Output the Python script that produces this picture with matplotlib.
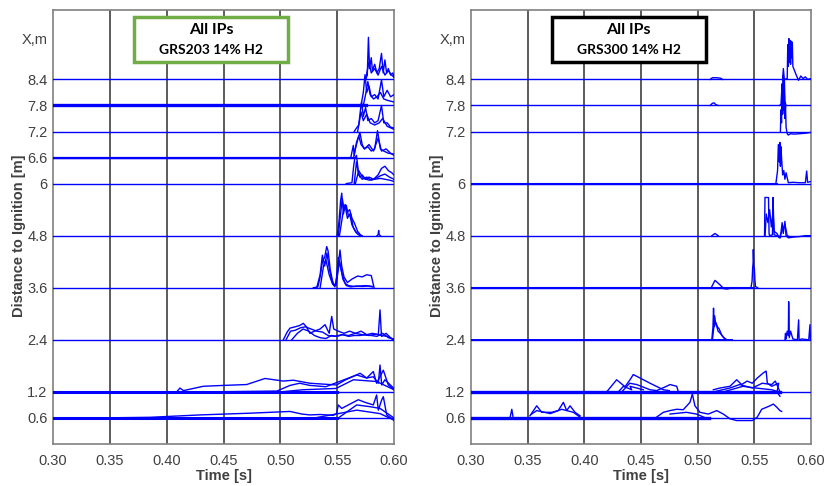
import matplotlib
matplotlib.use("Agg")
import matplotlib.pyplot as plt
from matplotlib.patches import Rectangle

# ---------------- data: GRS203 (left panel) ----------------
pos_203 = [0.6, 1.2, 2.4, 3.6, 4.8, 6.0, 6.6, 7.2, 7.8, 8.4]
ticks_203 = ['0.6', '1.2', '2.4', '3.6', '4.8', '6', '6.6', '7.2', '7.8', '8.4']

# each trace: (time [s], amplitude above the sensor baseline [m-offset])
l_84 = [
    ([0.575, 0.5765, 0.5775, 0.5785, 0.580, 0.581, 0.583, 0.585, 0.587, 0.589, 0.5905, 0.592, 0.5935, 0.595, 0.597, 0.599, 0.600],
     [0, 0.1, 0.97, 0.25, 0.5, 0.2, 0.35, 0.15, 0.25, 0.6, 0.15, 0.45, 0.15, 0.25, 0.1, 0.15, 0.05]),
    ([0.575, 0.578, 0.580, 0.583, 0.586, 0.589, 0.592, 0.595, 0.598, 0.600],
     [0, 0.4, 0.15, 0.25, 0.1, 0.3, 0.1, 0.2, 0.1, 0.05]),
]
l_78 = [
    ([0.571, 0.573, 0.5745, 0.576, 0.578, 0.580, 0.583, 0.586, 0.589, 0.591, 0.594, 0.597, 0.600],
     [0, 0.3, 0.71, 0.3, 0.45, 0.2, 0.25, 0.15, 0.59, 0.2, 0.35, 0.2, 0.25]),
    ([0.573, 0.575, 0.577, 0.579, 0.582, 0.585, 0.588, 0.591, 0.594, 0.597, 0.600],
     [0, 0.25, 0.55, 0.25, 0.15, 0.2, 0.3, 0.15, 0.12, 0.1, 0.08]),
]
l_72 = [
    ([0.565, 0.567, 0.569, 0.5705, 0.5715, 0.573, 0.575, 0.577, 0.580, 0.583, 0.586, 0.589, 0.591, 0.594, 0.597, 0.600],
     [0, 0.08, 0.15, 0.5, 0.68, 0.35, 0.55, 0.25, 0.3, 0.2, 0.25, 0.6, 0.2, 0.2, 0.1, 0.08]),
    ([0.568, 0.571, 0.573, 0.576, 0.579, 0.583, 0.587, 0.590, 0.594, 0.600],
     [0, 0.45, 0.25, 0.4, 0.2, 0.15, 0.2, 0.3, 0.12, 0.05]),
]
l_66 = [
    ([0.562, 0.5642, 0.565, 0.566, 0.568, 0.570, 0.572, 0.574, 0.577, 0.580, 0.583, 0.5855, 0.588, 0.591, 0.595, 0.600],
     [0, 0.28, 0.05, 0.2, 0.4, 0.58, 0.3, 0.2, 0.25, 0.15, 0.2, 0.62, 0.2, 0.15, 0.1, 0.08]),
    ([0.5645, 0.567, 0.569, 0.571, 0.574, 0.578, 0.582, 0.586, 0.589, 0.593, 0.597, 0.600],
     [0, 0.35, 0.5, 0.3, 0.2, 0.3, 0.15, 0.45, 0.15, 0.2, 0.1, 0.05]),
]
l_60 = [
    ([0.558, 0.563, 0.5645, 0.5655, 0.567, 0.5685, 0.570, 0.572, 0.575, 0.578, 0.582, 0.586, 0.589, 0.592, 0.595, 0.598, 0.600],
     [0, 0.02, 0.4, 0.58, 0.65, 0.3, 0.15, 0.2, 0.1, 0.15, 0.1, 0.2, 0.35, 0.4, 0.3, 0.25, 0.2]),
    ([0.565, 0.567, 0.569, 0.572, 0.576, 0.580, 0.584, 0.588, 0.592, 0.596, 0.600],
     [0, 0.5, 0.2, 0.1, 0.15, 0.08, 0.12, 0.18, 0.22, 0.15, 0.1]),
    ([0.566, 0.569, 0.573, 0.578, 0.583, 0.588, 0.592, 0.596, 0.600],
     [0, 0.3, 0.12, 0.08, 0.1, 0.12, 0.1, 0.08, 0.05]),
]
l_48 = [
    ([0.550, 0.5515, 0.553, 0.554, 0.5555, 0.557, 0.559, 0.561, 0.563, 0.566, 0.569, 0.572],
     [0, 0.3, 0.8, 0.98, 0.5, 0.7, 0.4, 0.5, 0.25, 0.1, 0.03, 0]),
    ([0.551, 0.553, 0.5545, 0.556, 0.558, 0.560, 0.562, 0.564, 0.567, 0.570],
     [0, 0.5, 0.86, 0.6, 0.7, 0.45, 0.5, 0.2, 0.06, 0]),
    ([0.552, 0.555, 0.557, 0.559, 0.561, 0.563, 0.565, 0.568, 0.571],
     [0, 0.5, 0.72, 0.55, 0.6, 0.4, 0.3, 0.1, 0]),
    ([0.585, 0.586, 0.5865, 0.587, 0.588],
     [0, 0.02, 0.12, 0.02, 0]),
]
l_36 = [
    ([0.529, 0.533, 0.535, 0.537, 0.539, 0.5408, 0.542, 0.544, 0.546, 0.548, 0.550, 0.5525, 0.554, 0.556, 0.559, 0.563, 0.568, 0.572, 0.576, 0.580, 0.5825],
     [0, 0.02, 0.25, 0.6, 0.7, 0.95, 0.85, 0.4, 0.15, 0.02, 0.3, 0.87, 0.5, 0.25, 0.12, 0.2, 0.27, 0.25, 0.3, 0.28, 0]),
    ([0.532, 0.535, 0.537, 0.539, 0.541, 0.543, 0.545, 0.547, 0.549, 0.551, 0.553, 0.555, 0.558, 0.562, 0.567, 0.572, 0.577, 0.581],
     [0, 0.3, 0.75, 0.5, 0.8, 0.45, 0.2, 0.05, 0.1, 0.7, 0.5, 0.2, 0.05, 0.02, 0.04, 0.03, 0.04, 0.02]),
    ([0.535, 0.538, 0.540, 0.543, 0.546, 0.549, 0.552, 0.554, 0.557, 0.560, 0.565, 0.570, 0.575, 0.5815],
     [0, 0.5, 0.65, 0.3, 0.08, 0.05, 0.6, 0.35, 0.1, 0.05, 0.03, 0.04, 0.05, 0.03]),
]
l_24 = [
    ([0.5026, 0.506, 0.5085, 0.513, 0.517, 0.5202, 0.523, 0.526, 0.530, 0.535, 0.5393, 0.543, 0.5452, 0.547, 0.551, 0.556, 0.561, 0.566, 0.571, 0.576, 0.581, 0.5862, 0.5877, 0.589, 0.593, 0.597, 0.600],
     [0, 0.18, 0.27, 0.3, 0.33, 0.38, 0.3, 0.15, 0.2, 0.25, 0.35, 0.15, 0.54, 0.25, 0.2, 0.15, 0.2, 0.15, 0.2, 0.12, 0.15, 0.12, 0.69, 0.08, 0.15, 0.05, -0.02]),
    ([0.505, 0.509, 0.513, 0.518, 0.522, 0.527, 0.532, 0.537, 0.542, 0.548, 0.554, 0.560, 0.566, 0.572, 0.578, 0.584, 0.589, 0.594, 0.600],
     [0, 0.2, 0.22, 0.28, 0.3, 0.25, 0.2, 0.18, 0.1, 0.08, 0.12, 0.1, 0.15, 0.12, 0.1, 0.13, 0.1, 0.08, 0.0]),
    ([0.510, 0.515, 0.520, 0.525, 0.530, 0.535, 0.540, 0.545, 0.550, 0.555, 0.560, 0.565, 0.570, 0.575, 0.580, 0.585, 0.590, 0.595, 0.600],
     [0, 0.15, 0.25, 0.2, 0.1, 0.05, 0.03, 0.1, 0.08, 0.12, 0.08, 0.1, 0.1, 0.12, 0.1, 0.08, 0.15, 0.05, 0.02]),
]
l_12 = [
    ([0.4088, 0.4117, 0.4147, 0.4323, 0.450, 0.4704, 0.4865, 0.5026, 0.5114, 0.526, 0.5495, 0.5575, 0.5702, 0.5760, 0.5818, 0.5862, 0.5877, 0.5892, 0.5920, 0.600],
     [0, 0.09, 0.03, 0.13, 0.15, 0.17, 0.31, 0.25, 0.27, 0.2, 0.16, 0.28, 0.43, 0.32, 0.35, 0.2, 0.62, 0.16, 0.28, 0.08]),
    ([0.4323, 0.497, 0.5085, 0.517, 0.526, 0.540, 0.552, 0.5672, 0.5760, 0.5818, 0.5847, 0.5906, 0.5950, 0.600],
     [0, 0.02, 0.15, 0.2, 0.15, 0.12, 0.24, 0.39, 0.32, 0.47, 0.2, 0.5, 0.16, 0.05]),
    ([0.500, 0.520, 0.549, 0.5643, 0.5847, 0.600],
     [0, 0.05, 0.08, 0.28, 0.24, 0.05]),
]
l_06 = [
    ([0.340, 0.3853, 0.4293, 0.4733, 0.5085, 0.519, 0.526, 0.535, 0.5466, 0.5495, 0.551, 0.554, 0.5598, 0.5686, 0.5745, 0.5818, 0.5847, 0.5862, 0.5891, 0.5906, 0.5936, 0.600],
     [0, 0.015, 0.07, 0.11, 0.15, 0.09, 0.07, 0.08, 0.06, 0.1, 0.3, 0.22, 0.3, 0.42, 0.36, 0.3, 0.53, 0.18, 0.41, 0.49, 0.07, -0.05]),
    ([0.551, 0.5672, 0.5789, 0.5877, 0.600],
     [0, 0.3, 0.26, 0.22, 0.0]),
    ([0.530, 0.551, 0.5672, 0.5877, 0.600],
     [0, 0.1, 0.18, 0.1, -0.05]),
]
traces_203 = [l_06, l_12, l_24, l_36, l_48, l_60, l_66, l_72, l_78, l_84]

# ---------------- data: GRS300 (right panel) ----------------
pos_300 = [0.6, 1.2, 2.4, 3.6, 4.8, 6.0, 7.2, 7.8, 8.4]
ticks_300 = ['0.6', '1.2', '2.4', '3.6', '4.8', '6', '7.2', '7.8', '8.4']

r_84 = [
    ([0.511, 0.513, 0.5165, 0.520, 0.522], [0, 0.04, 0.04, 0.03, 0]),
    ([0.575, 0.5756, 0.5765, 0.579, 0.5795, 0.580, 0.5805, 0.581, 0.5815, 0.582, 0.5825, 0.583, 0.5835, 0.584, 0.5855, 0.587, 0.589, 0.591, 0.593, 0.595, 0.597, 0.600],
     [0, 0.25, 0, 0.02, 0.8, 0.3, 0.94, 0.4, 0.9, 0.35, 0.88, 0.5, 0.86, 0.3, 0.2, 0.1, -0.02, 0.08, 0.02, 0.06, 0.0, 0.02]),
]
r_78 = [
    ([0.511, 0.513, 0.5145, 0.516, 0.518], [0, 0.05, 0.06, 0.02, 0]),
    ([0.572, 0.5735, 0.5745, 0.575, 0.5755, 0.576, 0.5765, 0.577, 0.578], [0, 0.02, 0.5, 0.2, 0.7, 0.3, 0.6, 0.1, 0]),
]
r_72 = [
    ([0.573, 0.5735, 0.574, 0.5745, 0.575, 0.5755, 0.576, 0.5765, 0.577, 0.5775, 0.578, 0.579, 0.580, 0.582, 0.585, 0.590, 0.595, 0.600],
     [0, 0.5, 0.2, 0.9, 0.4, 0.88, 0.5, 0.85, 0.3, 0.6, 0.1, -0.05, -0.08, -0.05, -0.06, -0.05, -0.04, -0.02]),
]
r_60 = [
    ([0.569, 0.5705, 0.5712, 0.572, 0.5725, 0.573, 0.5735, 0.574, 0.575, 0.576, 0.577, 0.578, 0.580, 0.584, 0.590, 0.595, 0.5962, 0.597, 0.600],
     [0, 0.3, 0.9, 0.5, 0.95, 0.4, 0.85, 0.6, 0.2, 0.3, 0.1, 0.25, 0.02, 0.03, 0.02, 0.02, 0.29, 0.03, 0.05]),
]
r_48 = [
    ([0.5125, 0.5153, 0.518], [0, 0.05, 0]),
    ([0.559, 0.5594, 0.5625, 0.563, 0.5635, 0.566, 0.5665, 0.567, 0.5675, 0.570, 0.573, 0.5745, 0.5755, 0.577, 0.578, 0.580, 0.585, 0.590, 0.595, 0.600],
     [0, 0.88, 0.88, 0.05, 0.0, 0.02, 0.88, 0.4, 0.02, 0.0, -0.05, 0.3, 0.05, 0.33, 0.0, -0.05, -0.03, -0.02, 0.0, 0.0]),
    ([0.5595, 0.5605, 0.562, 0.5635, 0.565, 0.5665, 0.5675, 0.570, 0.572, 0.575, 0.577, 0.579, 0.582],
     [0, 0.5, 0.3, 0.6, 0.2, 0.55, 0.1, 0.05, -0.05, 0.15, 0.25, 0.0, -0.03]),
]
r_36 = [
    ([0.512, 0.5135, 0.5153, 0.517, 0.520, 0.523, 0.526, 0.530], [0, 0.08, 0.17, 0.13, 0.06, -0.02, -0.03, 0]),
    ([0.547, 0.548, 0.5485, 0.549, 0.5491, 0.5495, 0.550, 0.5505, 0.551, 0.553], [0, 0.15, 0.45, 0.6, 0.88, 0.5, 0.45, 0.2, 0.03, 0]),
]
r_24 = [
    ([0.5125, 0.5135, 0.514, 0.5145, 0.515, 0.516, 0.517, 0.518, 0.520, 0.522, 0.524, 0.526],
     [0, 0.3, 0.73, 0.3, 0.55, 0.35, 0.3, 0.2, 0.15, 0.08, 0.03, 0]),
    ([0.513, 0.5145, 0.516, 0.5175, 0.519, 0.521, 0.523, 0.525], [0, 0.35, 0.4, 0.3, 0.25, 0.12, 0.05, 0]),
    ([0.577, 0.5775, 0.578, 0.579, 0.580, 0.5803, 0.5808, 0.582, 0.584, 0.588, 0.5891, 0.5895, 0.592, 0.598, 0.5991, 0.5995],
     [0, 0.15, 0.02, 0.2, 0.1, 0.88, 0.05, 0.2, 0.02, 0.0, 0.46, 0.0, 0.02, 0.0, 0.35, 0.0]),
]
r_12 = [
    ([0.4197, 0.4285, 0.4359, 0.4403, 0.4432, 0.4462, 0.458, 0.4697, 0.475],
     [0, 0.28, 0.12, 0.28, 0.4, 0.36, 0.2, 0.05, 0.03]),
    ([0.433, 0.440, 0.4462, 0.458, 0.4638, 0.4726, 0.4756, 0.4815, 0.483],
     [0, 0.2, 0.17, 0.05, 0.03, 0.13, 0.17, 0.13, 0]),
    ([0.430, 0.4345, 0.4418, 0.4403, 0.452], [0, 0.13, 0.05, 0.13, 0.05]),
    ([0.5138, 0.5197, 0.5285, 0.5344, 0.5388, 0.5437, 0.5482, 0.5526, 0.558, 0.5604, 0.5615, 0.5653, 0.5715, 0.5700, 0.5726],
     [0.05, 0.09, 0.13, 0.28, 0.17, 0.25, 0.2, 0.32, 0.44, 0.48, 0.2, 0.13, 0.2, 0.0, -0.1]),
    ([0.5138, 0.5285, 0.537, 0.5482, 0.5570, 0.5653, 0.5685, 0.5730],
     [0.0, 0.09, 0.17, 0.09, 0.2, 0.17, 0.25, -0.02]),
    ([0.5226, 0.540, 0.5511, 0.5653, 0.5715], [0.0, 0.13, 0.09, 0.05, 0.0]),
]
r_06 = [
    ([0.3344, 0.336, 0.337], [0, 0.2, 0.04]),
    ([0.352, 0.358, 0.3624, 0.3712, 0.377, 0.3815, 0.3844, 0.3874, 0.3918, 0.3962],
     [0.05, 0.28, 0.13, 0.13, 0.17, 0.36, 0.17, 0.28, 0.13, 0.05]),
    ([0.3535, 0.358, 0.370, 0.380, 0.3903, 0.3962], [0.09, 0.17, 0.1, 0.2, 0.13, 0.02]),
    ([0.4638, 0.4697, 0.4756, 0.4815, 0.4873, 0.4932, 0.4953, 0.4976, 0.5020, 0.5094, 0.5168, 0.5226, 0.5285, 0.5344, 0.5482, 0.5526, 0.5565, 0.5638, 0.5668, 0.5697, 0.5726, 0.5741],
     [0.02, 0.13, 0.17, 0.2, 0.19, 0.36, 0.55, 0.28, 0.13, 0.09, 0.17, 0.09, -0.02, -0.06, -0.06, 0.02, 0.2, 0.28, 0.32, 0.25, 0.17, 0.15]),
    ([0.4756, 0.490, 0.4990, 0.5079], [0.09, 0.13, 0.09, -0.01]),
]
traces_300 = [r_06, r_12, r_24, r_36, r_48, r_60, r_72, r_78, r_84]

time_ticks = [0.30, 0.35, 0.40, 0.45, 0.50, 0.55, 0.60]

blue = '#0000ff'
grey = '#404040'

fig = plt.figure(figsize=(8.24, 4.86), dpi=100)
ax1 = fig.add_axes([53 / 824, 1 - 444 / 486, 341 / 824, 434 / 486])
ax2 = fig.add_axes([471 / 824, 1 - 444 / 486, 340 / 824, 434 / 486])

# thick (noisy) baseline stretches: (position, t_start, t_end, width)
thick_203 = [(0.6, 0.30, 0.55, 2.2), (1.2, 0.30, 0.55, 2.2), (7.8, 0.30, 0.575, 2.4), (6.6, 0.30, 0.565, 1.6)]
thick_300 = [(0.6, 0.30, 0.51, 2.4), (1.2, 0.30, 0.573, 2.4), (3.6, 0.30, 0.55, 1.5),
             (6.0, 0.30, 0.57, 1.5), (2.4, 0.30, 0.53, 1.4)]


def draw_panel(ax, positions, labels, traces, thick, title, box_color, ylab_x):
    for p, group in zip(positions, traces):
        ax.plot([0.30, 0.60], [p, p], color=blue, lw=1.0, zorder=3)
        for t, a in group:
            ax.plot(t, [p + v for v in a], color=blue, lw=1.0, zorder=3)
    for p, t0, t1, w in thick:
        ax.plot([t0, t1], [p, p], color=blue, lw=w, zorder=3)

    ax.set_xlim(0.30, 0.60)
    ax.set_ylim(0, 10)
    ax.set_xticks(time_ticks)
    ax.set_xticklabels(['%.2f' % v for v in time_ticks])
    ax.set_yticks(positions + [9.35])
    ax.set_yticklabels(labels + ['X,m'])
    ax.tick_params(length=0, labelsize=10.5, labelcolor=grey)
    ax.tick_params(axis='x', pad=7)
    ax.tick_params(axis='y', pad=4)
    for lab in ax.get_xticklabels() + ax.get_yticklabels():
        lab.set_family('Liberation Sans')
    ax.set_xlabel('Time [s]', fontsize=10.5, fontweight='bold', color=grey,
                  family='Liberation Sans')
    ax.xaxis.set_label_coords(0.5, -0.058)
    ax.set_ylabel('Distance to Ignition [m]', fontsize=10.5, fontweight='bold',
                  color=grey, family='Liberation Sans')
    ax.yaxis.set_label_coords(ylab_x, 0.48)
    for v in time_ticks[1:-1]:
        ax.axvline(v, color=grey, lw=1.2, zorder=2)
    for s in ax.spines.values():
        s.set_color('#808080')
        s.set_linewidth(1.2)

    ax.add_patch(Rectangle((0.238, 0.880), 0.452, 0.105, transform=ax.transAxes,
                           facecolor='white', edgecolor=box_color, lw=2.5, zorder=5))
    ax.text(0.464, 0.953, 'All IPs', transform=ax.transAxes, ha='center', va='center',
            fontsize=11.5, fontweight='bold', family='Lato', zorder=6)
    ax.text(0.464, 0.907, title, transform=ax.transAxes, ha='center', va='center',
            fontsize=10, fontweight='bold', family='Lato', zorder=6)


draw_panel(ax1, pos_203, ticks_203, traces_203, thick_203, 'GRS203 14% H2', '#70ad47', -0.078)
draw_panel(ax2, pos_300, ticks_300, traces_300, thick_300, 'GRS300 14% H2', 'black', -0.080)

fig.savefig('out.png', dpi=100)
